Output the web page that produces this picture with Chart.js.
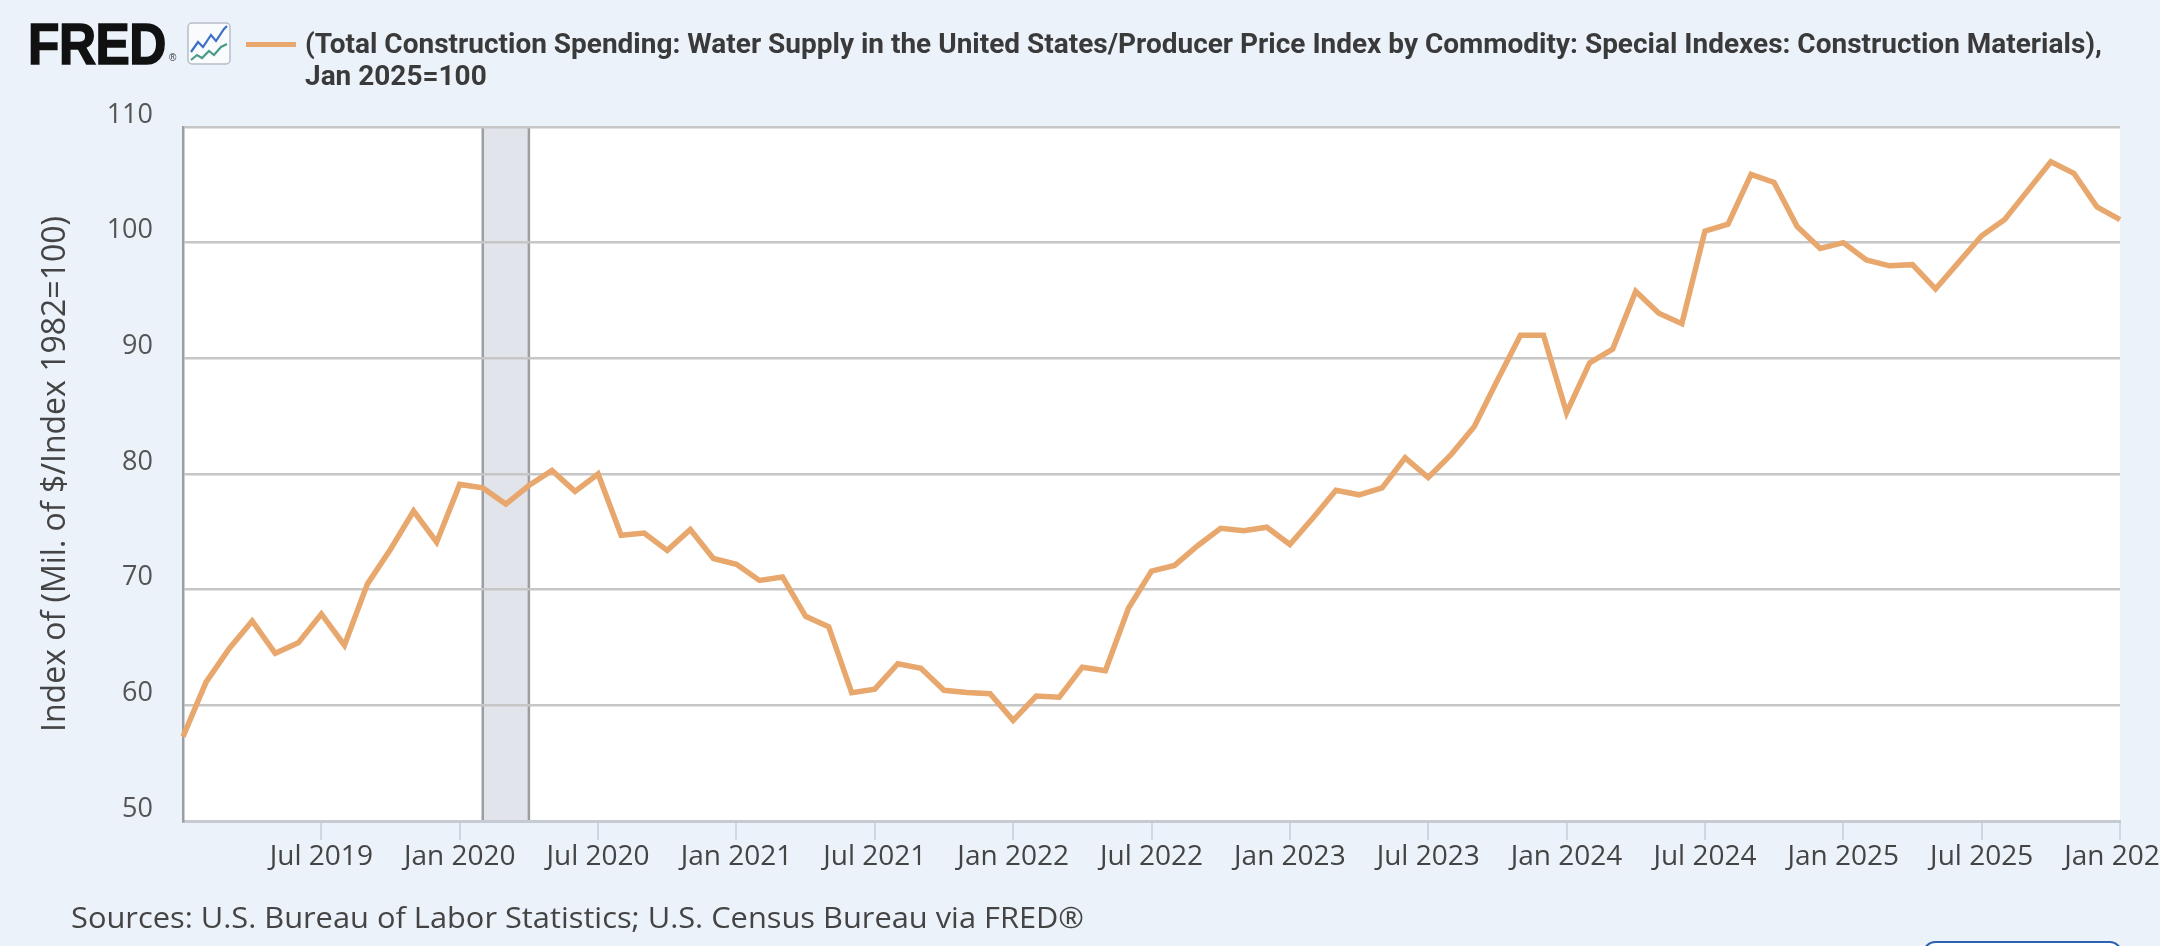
<!DOCTYPE html>
<html>
<head>
<meta charset="utf-8">
<script src="https://cdn.jsdelivr.net/npm/chart.js@4.4.1/dist/chart.umd.min.js"></script>
<style>
  html, body { margin: 0; padding: 0; width: 2160px; height: 946px; overflow: hidden; background: #ebf2fa; }
  #wrap { position: absolute; left: 0; top: 0; width: 2300px; height: 946px; }
  #chart { position: absolute; left: 0; top: 0; }
  .abs { position: absolute; white-space: nowrap; }
  #fred { left: 28px; top: 16px; font-family: "Liberation Sans", Arial, sans-serif; font-weight: 700; font-size: 57px; line-height: 56px; color: #111; transform-origin: 0 0; transform: scaleX(0.9); -webkit-text-stroke: 1.6px #111; letter-spacing: -0.5px; }
  #reg { left: 169px; top: 53px; font-family: "Liberation Sans", Arial, sans-serif; font-size: 10px; line-height: 10px; color: #333; }
  #icon { left: 187px; top: 22px; }
  #legline { left: 246px; top: 42px; width: 50px; height: 5px; background: #e8a76c; }
  #title { left: 305px; top: 28px; font-family: Roboto, "Liberation Sans", sans-serif; font-weight: 700; font-size: 27px; line-height: 32px; color: #3a3a3a; transform-origin: 0 0; }
  #src { left: 71px; top: 902px; font-family: "Open Sans", sans-serif; font-size: 29px; line-height: 29px; color: #444; transform-origin: 0 0; }
  #btn { left: 1923px; top: 941px; width: 195px; height: 40px; border: 2.5px solid #2c62b0; border-radius: 12px; background: #fff; }
</style>
</head>
<body>
<div id="wrap"><canvas id="chart" width="2300" height="946"></canvas></div>
<div id="fred" class="abs">FRED</div>
<div id="reg" class="abs">®</div>
<svg id="icon" class="abs" width="44" height="43" viewBox="0 0 44 43">
  <rect x="1" y="1" width="42" height="41" rx="4" ry="4" fill="#f9fbfd" stroke="#b8bdc6" stroke-width="1.5"/>
  <polyline points="4,30 11,20 16,25 24,13 29,19 37,7 40,4" fill="none" stroke="#3d6fc6" stroke-width="2.2"/>
  <polyline points="4,38 10,33 15,36 22,29 27,33 34,25 40,22" fill="none" stroke="#4b9b87" stroke-width="2.2"/>
</svg>
<div id="legline" class="abs"></div>
<div id="title" class="abs"><span id="t1">(Total Construction Spending: Water Supply in the United States/Producer Price Index by Commodity: Special Indexes: Construction Materials),</span><br><span id="t2">Jan 2025=100</span></div>
<div id="src" class="abs"><span id="s1">Sources: U.S. Bureau of Labor Statistics; U.S. Census Bureau via FRED®</span></div>
<div id="btn" class="abs"></div>
<script>
// ---- data ----
const categories = [
  'Jan 2019','Feb 2019','Mar 2019','Apr 2019','May 2019','Jun 2019','Jul 2019','Aug 2019','Sep 2019','Oct 2019','Nov 2019','Dec 2019',
  'Jan 2020','Feb 2020','Mar 2020','Apr 2020','May 2020','Jun 2020','Jul 2020','Aug 2020','Sep 2020','Oct 2020','Nov 2020','Dec 2020',
  'Jan 2021','Feb 2021','Mar 2021','Apr 2021','May 2021','Jun 2021','Jul 2021','Aug 2021','Sep 2021','Oct 2021','Nov 2021','Dec 2021',
  'Jan 2022','Feb 2022','Mar 2022','Apr 2022','May 2022','Jun 2022','Jul 2022','Aug 2022','Sep 2022','Oct 2022','Nov 2022','Dec 2022',
  'Jan 2023','Feb 2023','Mar 2023','Apr 2023','May 2023','Jun 2023','Jul 2023','Aug 2023','Sep 2023','Oct 2023','Nov 2023','Dec 2023',
  'Jan 2024','Feb 2024','Mar 2024','Apr 2024','May 2024','Jun 2024','Jul 2024','Aug 2024','Sep 2024','Oct 2024','Nov 2024','Dec 2024',
  'Jan 2025','Feb 2025','Mar 2025','Apr 2025','May 2025','Jun 2025','Jul 2025','Aug 2025','Sep 2025','Oct 2025','Nov 2025','Dec 2025',
  'Jan 2026'
];
const values = [
  57.3, 62.0, 64.9, 67.3, 64.5, 65.4, 67.9, 65.2, 70.5, 73.5, 76.8, 74.1,
  79.1, 78.8, 77.4, 79.0, 80.3, 78.5, 80.0, 74.7, 74.9, 73.4, 75.2, 72.7,
  72.2, 70.8, 71.1, 67.7, 66.8, 61.1, 61.4, 63.6, 63.2, 61.3, 61.1, 61.0,
  58.7, 60.8, 60.7, 63.3, 63.0, 68.4, 71.6, 72.1, 73.8, 75.3, 75.1, 75.4,
  73.9, 76.2, 78.6, 78.2, 78.8, 81.4, 79.7, 81.7, 84.1, 88.1, 92.0, 92.0,
  85.3, 89.6, 90.8, 95.8, 93.9, 93.0, 101.0, 101.6, 105.9, 105.2, 101.4, 99.5,
  100.0, 98.5, 98.0, 98.1, 96.0, 98.3, 100.6, 102.0, 104.5, 107.0, 106.0, 103.1,
  102.0
];
const tickLabels = ['Jul 2019','Jan 2020','Jul 2020','Jan 2021','Jul 2021','Jan 2022','Jul 2022','Jan 2023','Jul 2023','Jan 2024','Jul 2024','Jan 2025','Jul 2025','Jan 2026'];
const yTicks = [50, 60, 70, 80, 90, 100, 110];
const recessionStart = 'Feb 2020';
const recessionEnd = 'Apr 2020';
const seriesName = '(Total Construction Spending: Water Supply in the United States/Producer Price Index by Commodity: Special Indexes: Construction Materials), Jan 2025=100';
const yTitle = 'Index of (Mil. of $/Index 1982=100)';

// ---- fit header/footer text widths ----
function fitWidth(spanId, boxId, target) {
  const w = document.getElementById(spanId).getBoundingClientRect().width;
  if (w > 0) document.getElementById(boxId).style.transform = 'scaleX(' + (target / w) + ')';
}
fitWidth('t1', 'title', 1797);
fitWidth('s1', 'src', 1013);

const bgPlugin = {
  id: 'plotBg',
  beforeDraw(chart) {
    const { ctx, chartArea: a, scales } = chart;
    ctx.save();
    ctx.fillStyle = '#ffffff';
    ctx.fillRect(a.left, a.top, a.right - a.left, a.bottom - a.top);
    const x1 = scales.x.getPixelForValue(categories.indexOf(recessionStart));
    const x2 = scales.x.getPixelForValue(categories.indexOf(recessionEnd));
    ctx.fillStyle = '#e1e4ea';
    ctx.fillRect(x1, a.top, x2 - x1, a.bottom - a.top);
    ctx.strokeStyle = '#9c9ea4';
    ctx.lineWidth = 2.5;
    ctx.beginPath();
    ctx.moveTo(x1, a.top); ctx.lineTo(x1, a.bottom);
    ctx.moveTo(x2, a.top); ctx.lineTo(x2, a.bottom);
    ctx.stroke();
    ctx.restore();
  }
};

new Chart(document.getElementById('chart'), {
  type: 'line',
  data: {
    labels: categories,
    datasets: [{
      label: seriesName,
      data: values,
      borderColor: '#e8a76c',
      borderWidth: 5.5,
      pointRadius: 0,
      tension: 0,
      fill: false
    }]
  },
  options: {
    responsive: false,
    animation: false,
    devicePixelRatio: 1,
    layout: { padding: { left: 0, top: 127, right: 180, bottom: 65 } },
    plugins: { legend: { display: false }, tooltip: { enabled: false }, title: { display: false } },
    scales: {
      x: {
        type: 'category',
        offset: false,
        grid: { drawOnChartArea: false, drawTicks: true, tickLength: 19, color: '#cfd6e2', lineWidth: 2 },
        border: { display: true, color: '#c6cad2', width: 3 },
        ticks: {
          autoSkip: false, maxRotation: 0, minRotation: 0, padding: 0,
          color: '#444', font: { family: 'Open Sans', size: 28 },
          callback: function (v, i) { const l = categories[i]; return tickLabels.includes(l) ? l : null; }
        },
        afterFit(s) { s.height = 60; }
      },
      y: {
        min: 50, max: 110,
        afterBuildTicks(s) { s.ticks = yTicks.map(v => ({ value: v })); },
        ticks: { padding: 30, labelOffset: -12, color: '#555', font: { family: 'Open Sans', size: 27 } },
        grid: { color: '#c6c6c6', lineWidth: 2.5, drawTicks: false },
        border: { display: true, color: '#9c9ea4', width: 2.5 },
        title: { display: true, text: yTitle, color: '#444', font: { family: 'Open Sans', size: 32 }, padding: { top: 37, bottom: 0 } },
        afterFit(s) { s.width = 183; }
      }
    }
  },
  plugins: [bgPlugin]
});
</script>
</body>
</html>
